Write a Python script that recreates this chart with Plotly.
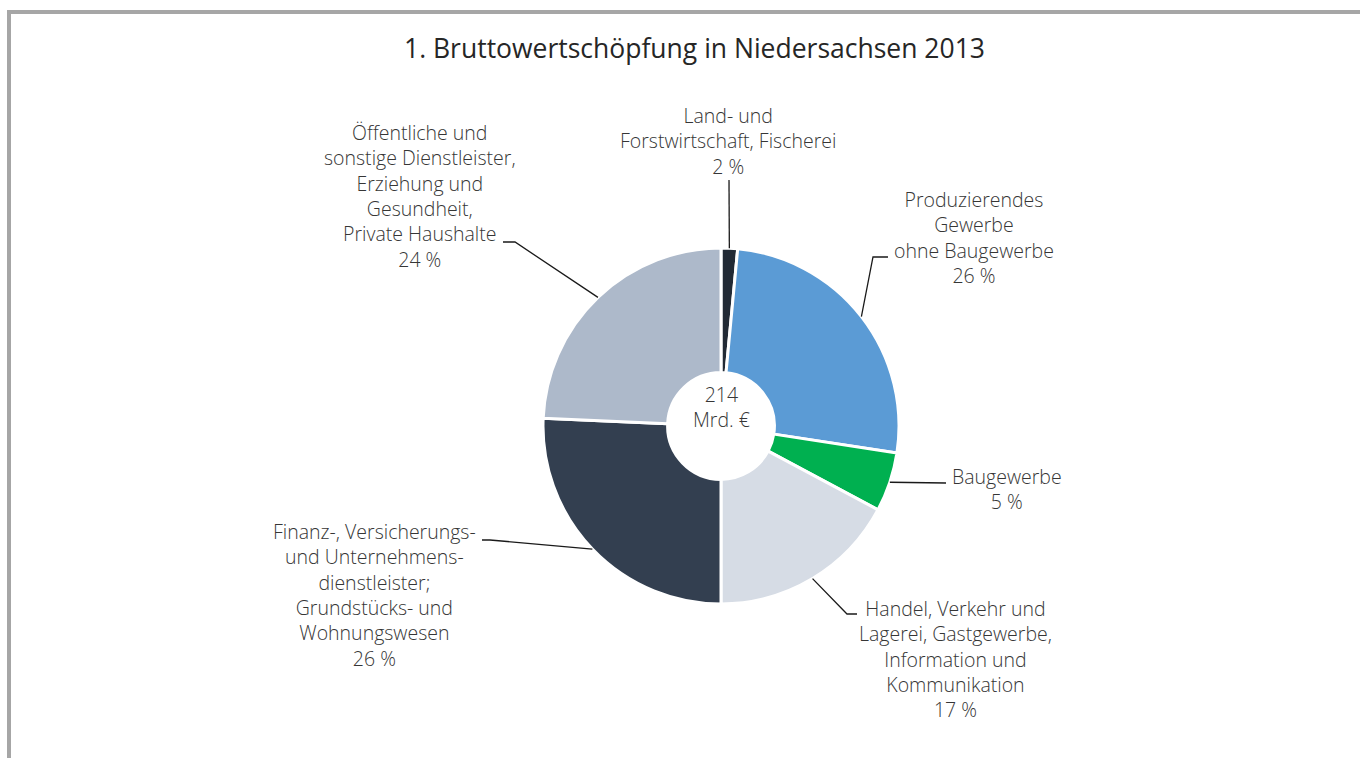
import math
import plotly.graph_objects as go

# ---------------- data ----------------
categories = [
    "Land- und<br>Forstwirtschaft, Fischerei",
    "Produzierendes<br>Gewerbe<br>ohne Baugewerbe",
    "Baugewerbe",
    "Handel, Verkehr und<br>Lagerei, Gastgewerbe,<br>Information und<br>Kommunikation",
    "Finanz-, Versicherungs-<br>und Unternehmens-<br>dienstleister;<br>Grundstücks- und<br>Wohnungswesen",
    "Öffentliche und<br>sonstige Dienstleister,<br>Erziehung und<br>Gesundheit,<br>Private Haushalte",
]
values_mrd = [3.2, 55.5, 11.5, 36.8, 55.0, 52.0]
pct_labels = ["2 %", "26 %", "5 %", "17 %", "26 %", "24 %"]
total_label = "214<br>Mrd. €"
title_text = "1. Bruttowertschöpfung in Niedersachsen 2013"

# ---------------- style / layout ----------------
W, H = 1360, 758
colors = ["#222a35", "#5b9bd5", "#00b050", "#d6dce5", "#333f50", "#adb9ca"]
font_family = "Open Sans"
text_color = "#363636"
label_size = 19.5
cx, cy, R = 721, 426, 178  # pie centre & radius in px
hole = 0.30

# label block centres (px) and leader-line elbow points (px)
label_xy = [(728, 141), (974, 237), (1007, 489), (956, 659), (374, 595), (420, 196)]
elbows = [
    [(729, 180)],
    [(873, 257), (888, 257)],
    [(946, 483)],
    [(847, 614), (857, 614)],
    [(490, 540), (482, 540)],
    [(515, 242), (503, 242)],
]


def px(x):
    return x / W


def py(y):
    return 1 - y / H


fig = go.Figure(
    go.Pie(
        values=values_mrd,
        labels=[c.replace("<br>", " ") for c in categories],
        sort=False,
        direction="clockwise",
        rotation=0,
        hole=hole,
        textinfo="none",
        marker=dict(colors=colors, line=dict(color="white", width=3)),
        domain=dict(x=[px(cx - R), px(cx + R)], y=[py(cy + R), py(cy - R)]),
        showlegend=False,
    )
)

annotations = []
shapes = []
tot = sum(values_mrd)
cum = 0.0
for i, v in enumerate(values_mrd):
    mid = (cum + v / 2) / tot * 2 * math.pi
    cum += v
    sx = cx + R * math.sin(mid)
    sy = cy - R * math.cos(mid)
    pts = [(sx, sy)] + elbows[i]
    path = "M " + " L ".join(f"{px(x):.5f},{py(y):.5f}" for x, y in pts)
    shapes.append(dict(type="path", path=path, xref="paper", yref="paper",
                       line=dict(color="#1a1a1a", width=1.3)))
    lx, ly = label_xy[i]
    annotations.append(dict(
        x=px(lx), y=py(ly), xref="paper", yref="paper",
        text=categories[i] + "<br>" + pct_labels[i],
        showarrow=False, align="center", xanchor="center", yanchor="middle",
        font=dict(family=font_family, size=label_size, color=text_color, weight=300),
    ))

annotations.append(dict(
    x=px(cx), y=py(407), xref="paper", yref="paper", text=total_label,
    showarrow=False, align="center", xanchor="center", yanchor="middle",
    font=dict(family=font_family, size=label_size, color=text_color, weight=300),
))
annotations.append(dict(
    x=px(694), y=py(48), xref="paper", yref="paper", text=title_text,
    showarrow=False, xanchor="center", yanchor="middle",
    font=dict(family=font_family, size=26.5, color="#262626", weight=400),
))

# frame (top & left)
shapes.append(dict(type="line", xref="paper", yref="paper",
                   x0=px(7), x1=1.01, y0=py(12), y1=py(12),
                   line=dict(color="#a6a6a6", width=4)))
shapes.append(dict(type="line", xref="paper", yref="paper",
                   x0=px(9), x1=px(9), y0=py(10), y1=-0.02,
                   line=dict(color="#a6a6a6", width=4)))

fig.update_layout(
    width=W, height=H,
    margin=dict(l=0, r=0, t=0, b=0),
    paper_bgcolor="white", plot_bgcolor="white",
    annotations=annotations, shapes=shapes,
)

fig.write_html(
    "out.html",
    config={"displayModeBar": False},
    post_script="document.body.style.margin='0';document.body.style.overflow='hidden';",
)
